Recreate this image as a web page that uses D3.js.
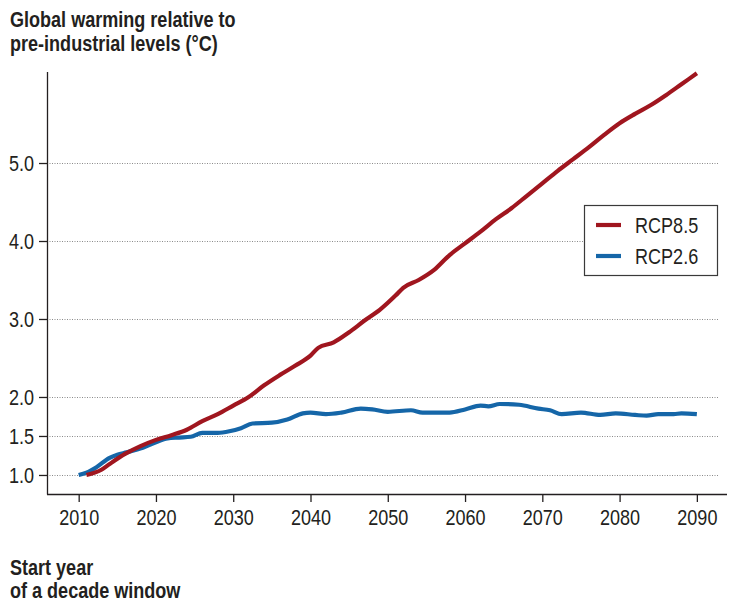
<!DOCTYPE html>
<html>
<head>
<meta charset="utf-8">
<script src="https://cdn.jsdelivr.net/npm/d3@7"></script>
<style>
  html, body { margin: 0; padding: 0; background: #fff; }
  svg { display: block; }
  text { font-family: "Liberation Sans Narrow", "Arial Narrow", "Liberation Sans", Arial, sans-serif; fill: #231f20; }
</style>
</head>
<body>
<svg id="chart" width="733" height="613"></svg>
<script>
// ---- data ----
const titleLines = ["Global warming relative to", "pre-industrial levels (°C)"];
const xTitleLines = ["Start year", "of a decade window"];
const xTicks = [2010, 2020, 2030, 2040, 2050, 2060, 2070, 2080, 2090];
const yTicks = [1.0, 1.5, 2.0, 3.0, 4.0, 5.0];
const seriesNames = ["RCP8.5", "RCP2.6"];
const seriesColors = ["#a0161f", "#1566a8"];

const rcp85Years = [2011, 2013, 2014, 2016, 2018, 2020, 2022, 2024, 2026, 2028, 2030, 2032, 2034, 2036, 2038, 2040, 2041, 2043, 2045, 2047, 2049, 2051, 2052, 2054, 2056, 2058, 2060, 2062, 2064, 2066, 2068, 2070, 2072, 2074, 2076, 2078, 2080, 2082, 2084, 2086, 2088, 2090];
const rcp85Values = [1.00, 1.07, 1.14, 1.27, 1.37, 1.45, 1.51, 1.58, 1.69, 1.78, 1.89, 2.00, 2.15, 2.28, 2.40, 2.53, 2.63, 2.70, 2.83, 2.98, 3.12, 3.30, 3.40, 3.50, 3.63, 3.82, 3.97, 4.12, 4.28, 4.42, 4.58, 4.74, 4.90, 5.05, 5.20, 5.36, 5.51, 5.63, 5.74, 5.87, 6.01, 6.15];

const rcp26Years = [2010, 2011, 2012.3, 2014, 2015, 2016.2, 2018.3, 2020, 2021.5, 2023, 2024.5, 2026, 2028, 2029.5, 2031, 2032.5, 2035, 2037, 2039, 2040, 2042, 2044, 2046.5, 2048, 2050, 2053, 2054.5, 2058, 2060, 2062, 2063, 2064.5, 2067, 2069.5, 2071, 2072.5, 2075, 2077.5, 2079.5, 2082, 2083.5, 2085, 2087, 2088, 2090];
const rcp26Values = [1.00, 1.03, 1.10, 1.22, 1.26, 1.29, 1.35, 1.42, 1.47, 1.48, 1.49, 1.54, 1.54, 1.56, 1.60, 1.66, 1.67, 1.71, 1.79, 1.80, 1.78, 1.80, 1.85, 1.84, 1.81, 1.83, 1.80, 1.80, 1.84, 1.89, 1.88, 1.91, 1.90, 1.85, 1.83, 1.78, 1.80, 1.77, 1.79, 1.77, 1.76, 1.78, 1.78, 1.79, 1.78];

// ---- layout ----
const svg = d3.select("#chart");
const axisLeftX = 47, axisBottomY = 494, axisTopY = 72, axisRightX = 727;
const narrow = 0.82; // the reference uses a condensed face

// squeeze each text horizontally to mimic the condensed typeface
function condense(sel) {
  sel.each(function () {
    const len = this.getComputedTextLength();
    d3.select(this).attr("textLength", (len * narrow).toFixed(1)).attr("lengthAdjust", "spacingAndGlyphs");
  });
}

const x = d3.scaleLinear().domain([2005.9, 2093.9]).range([axisLeftX, axisRightX]);
const y = d3.scaleLinear().domain([0.756, 6.167]).range([axisBottomY, axisTopY]);

// gridlines
svg.append("g").selectAll("line").data(yTicks).join("line")
  .attr("x1", axisLeftX).attr("x2", 719)
  .attr("y1", d => Math.round(y(d)) + 0.5).attr("y2", d => Math.round(y(d)) + 0.5)
  .attr("stroke", "#8a8a8a").attr("stroke-width", 1).attr("stroke-dasharray", "1,1.5");

// y axis
const yAxis = svg.append("g").attr("transform", `translate(${axisLeftX},0)`)
  .call(d3.axisLeft(y).tickValues(yTicks).tickFormat(d3.format(".1f")).tickSize(8).tickPadding(5));
yAxis.select(".domain").attr("d", `M0.5,${axisTopY}V${axisBottomY + 0.5}`);

// x axis
const xAxis = svg.append("g").attr("transform", `translate(0,${axisBottomY})`)
  .call(d3.axisBottom(x).tickValues(xTicks).tickFormat(d3.format("d")).tickSize(8).tickPadding(7));
xAxis.select(".domain").attr("d", `M${axisLeftX},0.5H${axisRightX}`);

svg.selectAll(".tick text").style("font-size", "22px").attr("fill", "#231f20");
svg.selectAll(".domain, .tick line").attr("stroke", "#231f20").attr("stroke-width", 1.3);
condense(svg.selectAll(".tick text"));

// lines
const line = d3.line().x(d => x(d[0])).y(d => y(d[1])).curve(d3.curveMonotoneX);
const series = [
  d3.zip(rcp85Years, rcp85Values),
  d3.zip(rcp26Years, rcp26Values)
];
svg.append("g").selectAll("path").data([1, 0]).join("path")
  .attr("d", i => line(series[i]))
  .attr("fill", "none")
  .attr("stroke", i => seriesColors[i])
  .attr("stroke-width", 4.2)
  .attr("stroke-linejoin", "round")
  .attr("stroke-linecap", "butt");

// legend
const lg = svg.append("g");
lg.append("rect").attr("x", 584.5).attr("y", 205.5).attr("width", 133).attr("height", 70)
  .attr("fill", "#fff").attr("stroke", "#3a3a3a").attr("stroke-width", 1.2);
seriesNames.forEach((name, i) => {
  const cy = 225 + i * 31;
  lg.append("line").attr("x1", 596).attr("x2", 621).attr("y1", cy).attr("y2", cy)
    .attr("stroke", seriesColors[i]).attr("stroke-width", 4.2);
  lg.append("text").attr("x", 635).attr("y", cy + 8).style("font-size", "22px").text(name).call(condense);
});

// titles
svg.append("g").selectAll("text").data(titleLines).join("text")
  .attr("x", 10).attr("y", (d, i) => 27 + i * 24)
  .style("font-size", "22px").style("font-weight", "bold").text(d => d).call(condense);
svg.append("g").selectAll("text").data(xTitleLines).join("text")
  .attr("x", 10).attr("y", (d, i) => 575 + i * 23)
  .style("font-size", "22px").style("font-weight", "bold").text(d => d).call(condense);
</script>
</body>
</html>
